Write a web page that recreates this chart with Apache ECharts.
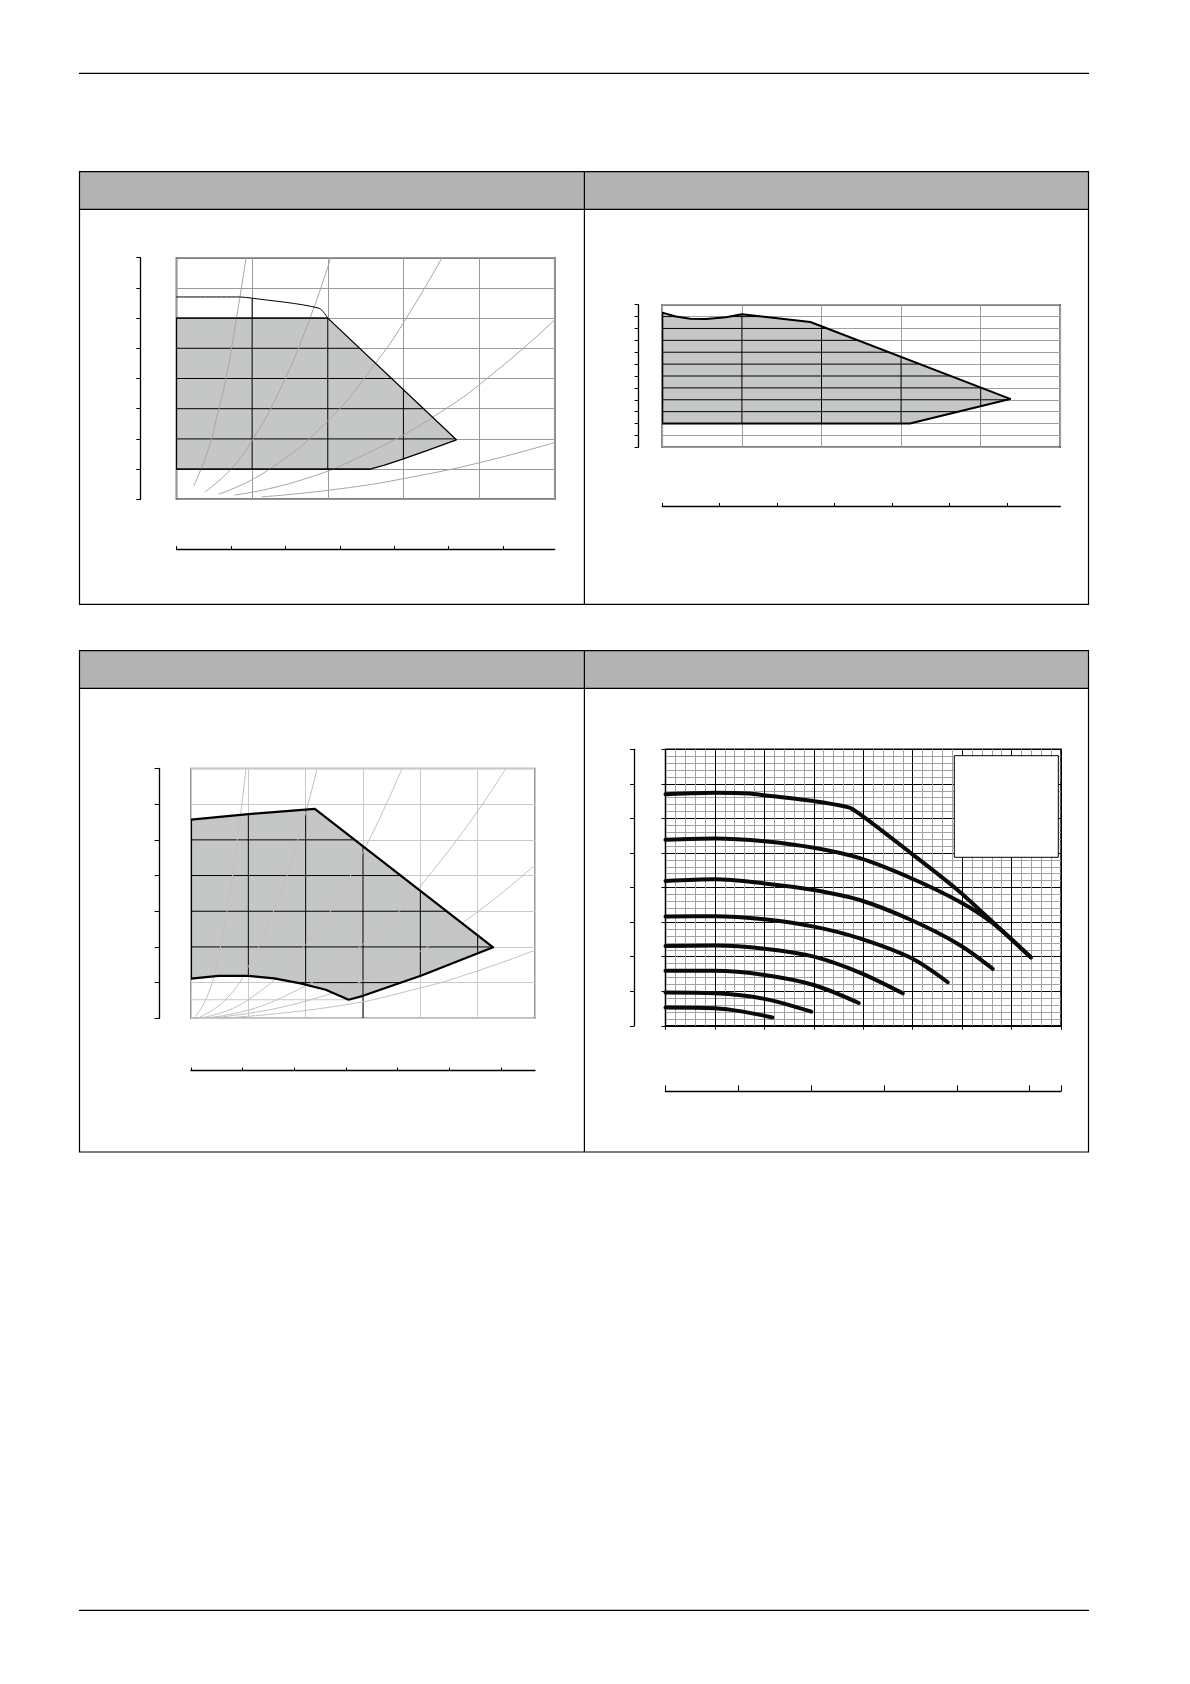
<!DOCTYPE html>
<html>
<head>
<meta charset="utf-8">
<script src="https://cdn.jsdelivr.net/npm/echarts@6/dist/echarts.min.js"></script>
<style>
html,body{margin:0;padding:0;background:#fff;}
#main{width:1190px;height:1684px;}
</style>
</head>
<body>
<div id="main"></div>
<script>
// ================= DATA =================
// Chart A (top-left): operating field, Q (x) vs H (y)
const aXMax = 5, aYMax = 8, aRulerMax = 6.95;
const aRulerTicks = [0, 1, 2, 3, 4, 5, 6];
const aArea = [[0, 1], [0, 6], [2, 6], [3.7, 1.97], [3.3, 1.6], [3.0, 1.34], [2.75, 1.13], [2.56, 1.0]];
const aLimit = [[0, 6.7], [0.83, 6.7], [1, 6.66], [1.88, 6.33], [2, 6]];
const aSys1 = [[0.23, 0.45], [0.42, 1.65], [0.55, 2.9], [0.65, 3.95], [0.78, 5.8], [0.92, 8]];
const aSys2 = [[0.38, 0.25], [0.7, 0.95], [1.0, 1.95], [1.4, 3.8], [1.75, 5.9], [2.04, 8]];
const aSys3 = [[0.56, 0.17], [1.2, 0.95], [2.0, 2.6], [2.66, 4.6], [3.1, 6.25], [3.51, 8]];
const aSys4 = [[0.77, 0.14], [1.6, 0.6], [2.5, 1.5], [3.5, 2.9], [4.3, 4.4], [5, 5.94]];
const aSys5 = [[1.13, 0.08], [2.2, 0.36], [3.2, 0.78], [4.1, 1.27], [5, 1.88]];

// Chart B (top-right)
const bXMax = 5, bYMax = 12, bRulerMax = 6.93;
const bRulerTicks = [0, 1, 2, 3, 4, 5, 6];
const bArea = [[0, 2], [0, 11.33], [0.17, 11.0], [0.35, 10.82], [0.55, 10.8], [0.8, 10.95], [1.0, 11.19],
  [1.86, 10.54], [4.37, 4.07], [3.11, 2]];

// Chart C (bottom-left)
const cXMax = 6, cYMax = 7, cRulerMax = 6.66;
const cRulerTicks = [0, 1, 2, 3, 4, 5, 6];
const cArea = [[0, 1.11], [0, 5.57], [1.0, 5.72], [2.16, 5.87], [5.27, 1.99], [4.02, 1.2], [3.0, 0.63],
  [2.75, 0.52], [2.35, 0.8], [1.91, 0.98], [1.45, 1.12], [1.0, 1.19], [0.48, 1.19]];
const cMinLine = [[0, 0.52], [2.75, 0.52]];
const cSys1 = [[0.08, 0.05], [0.3, 0.68], [0.5, 1.9], [0.65, 3.2], [0.8, 4.9], [0.96, 7]];
const cSys2 = [[0.15, 0.03], [0.6, 0.52], [1.0, 1.45], [1.5, 3.25], [1.9, 5.2], [2.2, 7]];
const cSys3 = [[0.2, 0.02], [1.0, 0.52], [2.0, 2.07], [2.8, 4.05], [3.68, 7]];
const cSys4 = [[0.25, 0.01], [1.5, 0.52], [3.0, 2.08], [4.3, 4.3], [5.49, 7]];
const cSys5 = [[0.35, 0.01], [2.0, 0.48], [3.5, 1.46], [4.8, 2.75], [6, 4.3]];
const cSys6 = [[0.5, 0], [2.5, 0.33], [4.0, 0.85], [5.0, 1.33], [6, 1.91]];

// Chart D (bottom-right): pump curves per speed step
const dXMax = 8, dYMax = 8, dRulerMax = 5.43;
const dRulerTicks = [0, 1, 2, 3, 4, 5, 5.43];
const dCurve1 = [[0, 6.70], [1, 6.74], [1.7, 6.72], [2, 6.67], [3, 6.5], [3.76, 6.29], [4.97, 4.99], [5.95, 3.88], [7.39, 1.98]];
const dCurve2 = [[0, 5.38], [1, 5.42], [2, 5.34], [3, 5.15], [3.93, 4.85], [4.97, 4.27], [5.95, 3.59], [6.62, 2.97], [7.39, 1.98]];
const dCurve3 = [[0, 4.19], [1, 4.24], [2, 4.12], [3, 3.93], [3.93, 3.64], [4.97, 3.06], [5.95, 2.34], [6.62, 1.65]];
const dCurve4 = [[0, 3.16], [1, 3.17], [2, 3.08], [3, 2.87], [3.93, 2.53], [4.97, 1.96], [5.71, 1.26]];
const dCurve5 = [[0, 2.31], [1, 2.32], [2, 2.23], [3, 2.0], [3.93, 1.54], [4.80, 0.94]];
const dCurve6 = [[0, 1.59], [1, 1.59], [2, 1.47], [3, 1.18], [3.91, 0.66]];
const dCurve7 = [[0, 0.96], [1, 0.94], [2, 0.78], [2.95, 0.41]];
const dCurve8 = [[0, 0.53], [1, 0.51], [1.57, 0.41], [2.16, 0.24]];

// ================= HELPERS =================
const FILL = '#c5c6c6';

function range(a, b) { const r = []; for (let i = a; i <= b; i++) r.push(i); return r; }

// intersect grid lines with a polygon (data space) -> segments inside polygon
function clipLines(poly, values, vertical) {
  const segs = [];
  values.forEach(v0 => {
    const v = v0 + 1e-6;
    const hits = [];
    for (let i = 0; i < poly.length; i++) {
      const p = poly[i], q = poly[(i + 1) % poly.length];
      const a = vertical ? p[0] : p[1], b = vertical ? q[0] : q[1];
      if ((a <= v && b > v) || (b <= v && a > v)) {
        const t = (v - a) / (b - a);
        hits.push(vertical ? p[1] + t * (q[1] - p[1]) : p[0] + t * (q[0] - p[0]));
      }
    }
    hits.sort((m, n) => m - n);
    for (let k = 0; k + 1 < hits.length; k += 2) {
      segs.push(vertical ? [[v0, hits[k]], [v0, hits[k + 1]]] : [[hits[k], v0], [hits[k + 1], v0]]);
    }
  });
  return segs;
}

function segSeries(xi, yi, segs, color, width, z) {
  return {
    type: 'custom', xAxisIndex: xi, yAxisIndex: yi, z: z, silent: true, clip: true,
    data: segs.map(s => [s[0][0], s[0][1], s[1][0], s[1][1]]),
    encode: { x: [0, 2], y: [1, 3] },
    renderItem: function (p, api) {
      const a = api.coord([api.value(0), api.value(1)]);
      const b = api.coord([api.value(2), api.value(3)]);
      return { type: 'line', shape: { x1: a[0], y1: a[1], x2: b[0], y2: b[1] }, style: { stroke: color, lineWidth: width } };
    }
  };
}

function polySeries(xi, yi, pts, fill, stroke, width, z) {
  return {
    type: 'custom', xAxisIndex: xi, yAxisIndex: yi, z: z, silent: true, clip: true,
    data: pts, encode: { x: 0, y: 1 },
    renderItem: function (p, api) {
      if (p.dataIndex !== 0) return null;
      return {
        type: 'polygon', shape: { points: pts.map(q => api.coord(q)) },
        style: { fill: fill, stroke: stroke, lineWidth: width, lineJoin: 'round' }
      };
    }
  };
}

function curve(xi, yi, pts, color, width, smooth, z) {
  return {
    type: 'line', xAxisIndex: xi, yAxisIndex: yi, data: pts, showSymbol: false, symbol: 'none',
    smooth: smooth, z: z, silent: true, clip: true,
    lineStyle: { color: color, width: width, cap: 'round', join: 'round' }
  };
}

function xMain(gi, max, gridColor) {
  return {
    type: 'value', gridIndex: gi, position: 'bottom', min: 0, max: max, interval: 1,
    axisLine: { show: false }, axisTick: { show: false }, axisLabel: { show: false },
    splitLine: { show: true, lineStyle: { color: gridColor, width: 1 } }
  };
}
function xRuler(gi, max, offset, ticks, len) {
  return {
    type: 'value', gridIndex: gi, position: 'bottom', offset: offset, min: 0, max: max, interval: 1,
    axisLine: { show: true, onZero: false, lineStyle: { color: '#000', width: 1.3 } },
    axisTick: { show: true, inside: true, length: len, customValues: ticks, lineStyle: { color: '#000', width: 1 } },
    axisLabel: { show: false }, splitLine: { show: false }
  };
}
function yRuler(gi, max, offset, len, gridColor) {
  return {
    type: 'value', gridIndex: gi, position: 'left', offset: offset, min: 0, max: max, interval: 1,
    axisLine: { show: true, onZero: false, lineStyle: { color: '#000', width: 1.3 } },
    axisTick: { show: true, length: len, lineStyle: { color: '#000', width: 1 } },
    axisLabel: { show: false },
    splitLine: { show: !!gridColor, lineStyle: { color: gridColor || '#000', width: 1 } }
  };
}

// ================= DERIVED =================
const aClip = [[0, 1]].concat(aLimit, aArea.slice(3));
const aBlack = clipLines(aClip, range(1, aXMax - 1), true).concat(clipLines(aClip, range(1, aYMax - 1), false));
const bBlack = clipLines(bArea, range(1, bXMax - 1), true).concat(clipLines(bArea, range(1, bYMax - 1), false));
const cBlack = clipLines(cArea, range(1, cXMax - 1), true).concat(clipLines(cArea, range(1, cYMax - 1), false))
  .concat([[[3, 0], [3, 0.63]]]);

// axis indices: x -> A:0 (ruler 1), B:2 (ruler 3), C:4 (ruler 5), D:6 (ruler 7); y -> A:0, B:1, C:2, D:3 (ruler 4)
const AX = 0, AY = 0, BX = 2, BY = 1, CX = 4, CY = 2, DX = 6, DY = 3;

// ================= CHART =================
const chart = echarts.init(document.getElementById('main'), null, { renderer: 'canvas' });

const frame = [];
function hline(x1, x2, y, w) { frame.push({ type: 'line', shape: { x1: x1, y1: y, x2: x2, y2: y }, style: { stroke: '#000', lineWidth: w } }); }
function vline(x, y1, y2, w) { frame.push({ type: 'line', shape: { x1: x, y1: y1, x2: x, y2: y2 }, style: { stroke: '#000', lineWidth: w } }); }
function table(top, head, bottom) {
  frame.push({ type: 'rect', shape: { x: 79.5, y: top, width: 1009, height: head - top }, style: { fill: '#b3b3b3', stroke: 'none' } });
  frame.push({ type: 'rect', shape: { x: 79.5, y: top, width: 1009, height: bottom - top }, style: { fill: 'none', stroke: '#000', lineWidth: 1.2 } });
  hline(79.5, 1088.5, head, 1.2);
  vline(584.4, top, bottom, 1.2);
}
hline(79, 1089, 73.3, 1.3);
hline(79, 1089, 1610.3, 1.3);
table(171.7, 209.3, 604.3);
table(650.7, 688.3, 1152);
// legend frame of chart D
frame.push({ type: 'rect', z: 50, shape: { x: 954.3, y: 755.7, width: 104, height: 101.6 }, style: { fill: '#fff', stroke: '#000', lineWidth: 1 } });

const option = {
  animation: false,
  backgroundColor: '#fff',
  graphic: { elements: frame },
  grid: [
    { left: 176.5, top: 257.7, width: 378.2, height: 241.6, show: true, borderColor: '#000', borderWidth: 1.5, backgroundColor: 'transparent' },
    { left: 662.3, top: 304.7, width: 398, height: 142.6, show: true, borderColor: '#000', borderWidth: 1.5, backgroundColor: 'transparent' },
    { left: 191, top: 768.5, width: 344, height: 249.8, show: true, borderColor: '#7a7a7a', borderWidth: 1.5, backgroundColor: 'transparent' },
    { left: 665.5, top: 749.3, width: 395.5, height: 276.5, show: true, borderColor: '#000', borderWidth: 1.5, backgroundColor: 'transparent' }
  ],
  xAxis: [
    xMain(0, aXMax, '#9a9a9a'),
    xRuler(0, aRulerMax, 49.7, aRulerTicks, 3),
    xMain(1, bXMax, '#a0a0a0'),
    xRuler(1, bRulerMax, 58.7, bRulerTicks, 3),
    xMain(2, cXMax, '#c9c9c9'),
    xRuler(2, cRulerMax, 52, cRulerTicks, 2.8),
    {
      type: 'value', gridIndex: 3, position: 'bottom', min: 0, max: dXMax, interval: 1,
      axisLine: { show: false }, axisTick: { show: true, length: 4, lineStyle: { color: '#000' } },
      axisLabel: { show: false },
      minorTick: { show: false, splitNumber: 5 },
      splitLine: { show: true, lineStyle: { color: '#000', width: 1 } },
      minorSplitLine: { show: true, lineStyle: { color: '#a3a3a3', width: 1 } }
    },
    xRuler(3, dRulerMax, 65.2, dRulerTicks, 5.7)
  ],
  yAxis: [
    yRuler(0, aYMax, 36.2, 4, '#9a9a9a'),
    yRuler(1, bYMax, 24, 3.7, '#a0a0a0'),
    yRuler(2, cYMax, 31.4, 5, '#c9c9c9'),
    {
      type: 'value', gridIndex: 3, position: 'left', min: 0, max: dYMax, interval: 1,
      axisLine: { show: false }, axisTick: { show: true, length: 4, lineStyle: { color: '#000' } },
      axisLabel: { show: false },
      minorTick: { show: false, splitNumber: 5 },
      splitLine: { show: true, lineStyle: { color: '#000', width: 1 } },
      minorSplitLine: { show: true, lineStyle: { color: '#a3a3a3', width: 1 } }
    },
    yRuler(3, dYMax, 31.2, 4.3, null)
  ],
  series: [
    // ---- A ----
    polySeries(AX, AY, aArea, FILL, 'none', 0, 1),
    segSeries(AX, AY, aBlack, '#000', 1, 2),
    curve(AX, AY, aSys1, '#a5a5a5', 1, true, 3),
    curve(AX, AY, aSys2, '#a5a5a5', 1, true, 3),
    curve(AX, AY, aSys3, '#a5a5a5', 1, true, 3),
    curve(AX, AY, aSys4, '#a5a5a5', 1, true, 3),
    curve(AX, AY, aSys5, '#a5a5a5', 1, true, 3),
    polySeries(AX, AY, aArea, 'none', '#000', 1.3, 4),
    curve(AX, AY, aLimit, '#000', 1, 0.3, 4),
    // ---- B ----
    polySeries(BX, BY, bArea, FILL, 'none', 0, 1),
    segSeries(BX, BY, bBlack, '#000', 1, 2),
    polySeries(BX, BY, bArea, 'none', '#000', 2, 4),
    // ---- C ----
    polySeries(CX, CY, cArea, FILL, 'none', 0, 1),
    segSeries(CX, CY, cBlack, '#000', 1, 2),
    curve(CX, CY, cMinLine, '#c9c9c9', 1, false, 2),
    curve(CX, CY, cSys1, '#c0c0c0', 1, true, 3),
    curve(CX, CY, cSys2, '#c0c0c0', 1, true, 3),
    curve(CX, CY, cSys3, '#c0c0c0', 1, true, 3),
    curve(CX, CY, cSys4, '#c0c0c0', 1, true, 3),
    curve(CX, CY, cSys5, '#c0c0c0', 1, true, 3),
    curve(CX, CY, cSys6, '#c0c0c0', 1, true, 3),
    polySeries(CX, CY, cArea, 'none', '#000', 2.2, 4),
    // ---- D ----
    curve(DX, DY, dCurve1, '#0a0a0a', 4, 0.15, 4),
    curve(DX, DY, dCurve2, '#0a0a0a', 4, 0.3, 4),
    curve(DX, DY, dCurve3, '#0a0a0a', 4, 0.3, 4),
    curve(DX, DY, dCurve4, '#0a0a0a', 4, 0.3, 4),
    curve(DX, DY, dCurve5, '#0a0a0a', 4, 0.3, 4),
    curve(DX, DY, dCurve6, '#0a0a0a', 4, 0.3, 4),
    curve(DX, DY, dCurve7, '#0a0a0a', 4, 0.3, 4),
    curve(DX, DY, dCurve8, '#0a0a0a', 4, 0.3, 4)
  ]
};
chart.setOption(option);
</script>
</body>
</html>
